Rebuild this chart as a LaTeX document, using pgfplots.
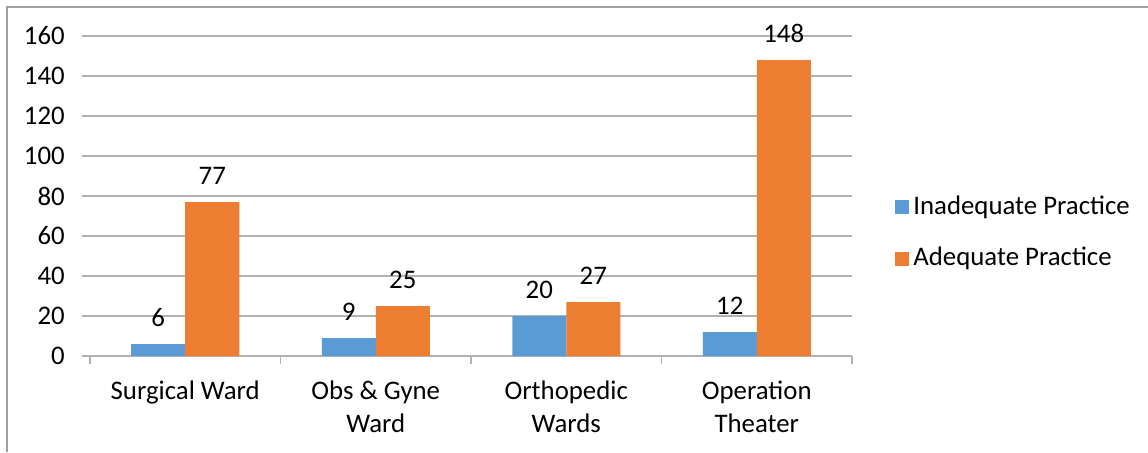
\documentclass[border=0pt]{standalone}
\usepackage{fontspec}
\setmainfont{Carlito}
\usepackage{pgfplots}
\pgfplotsset{compat=1.18}
\definecolor{cblue}{RGB}{91,155,213}
\definecolor{corange}{RGB}{237,125,49}
\definecolor{cgrid}{RGB}{178,178,178}
\definecolor{cframe}{RGB}{160,160,160}
\newcommand{\cf}{\fontsize{13.4}{16.5}\selectfont}
\begin{document}
\cf
\begin{tikzpicture}
\useasboundingbox (0,0) rectangle (574pt,226pt);
\draw[cframe, line width=0.6pt] (3.5pt,0) -- (3.5pt,222.5pt) -- (574pt,222.5pt);
\begin{axis}[
  at={(45pt,48pt)}, anchor=south west,
  scale only axis, width=381pt, height=160pt,
  ybar=0pt, bar width=27pt,
  xmin=-0.5, xmax=3.5, ymin=0, ymax=160,
  enlargelimits=false,
  axis line style={draw=none},
  ytick={0,20,...,160},
  ymajorgrids, grid style={cgrid, line width=0.6pt},
  xtick={-0.5,0.5,1.5,2.5,3.5},
  xtick pos=bottom, ytick pos=left,
  x tick label as interval,
  xticklabels={Surgical Ward, Obs \& Gyne\\Ward, Orthopedic\\Wards, Operation\\Theater},
  xticklabel style={align=center, font=\cf, yshift=-4pt},
  tick align=outside, major tick length=4pt,
  tick style={cgrid, line width=0.6pt},
  /pgf/number format/assume math mode=true,
  yticklabel style={font=\cf, xshift=-4pt},
  nodes near coords,
  nodes near coords style={anchor=south, inner sep=0pt, yshift=8.5pt, font=\cf, black},
  legend style={at={(1,0.385)}, anchor=west, xshift=18.5pt, draw=none, fill=none,
    font=\cf, row sep=10.5pt,
    /tikz/every even column/.append style={column sep=5pt}},
  legend cell align=left,
  legend image code/.code={\fill[#1] (0pt,-3.5pt) rectangle (7pt,3.5pt);},
]
\addplot[fill=cblue, draw=none] coordinates {(0,6) (1,9) (2,20) (3,12)};
\addplot[fill=corange, draw=none] coordinates {(0,77) (1,25) (2,27) (3,148)};
\legend{Inadequate Practice, Adequate Practice}
\end{axis}
\end{tikzpicture}
\end{document}
